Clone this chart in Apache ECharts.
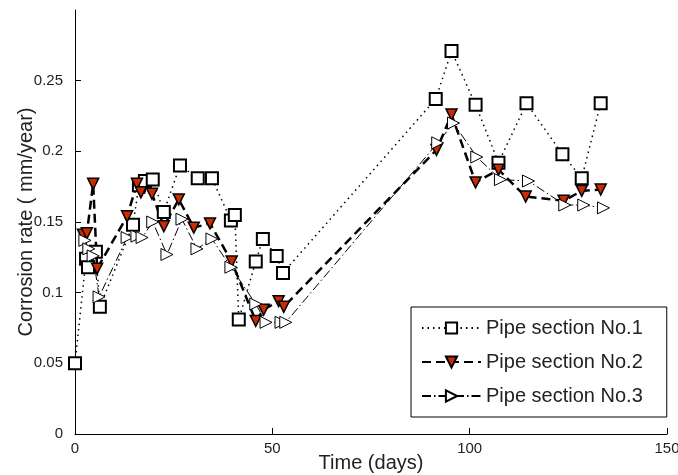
<!DOCTYPE html>
<html>
<head>
<meta charset="utf-8">
<script src="https://cdn.jsdelivr.net/npm/echarts@6/dist/echarts.min.js"></script>
<style>
  html, body { margin: 0; padding: 0; background: #fff; }
  #chart { width: 678px; height: 475px; }
</style>
</head>
<body>
<div id="chart"></div>
<script>
// Pipe section No.1 (squares)
const s1Days = [0, 2.8, 3.3, 5.3, 6.3, 14.7, 16.2, 17.7, 19.7, 22.5, 26.6, 31.1, 34.7, 39.5, 40.5, 41.5, 45.8, 47.6, 51.1, 52.7,
                91.4, 95.4, 101.5, 107.3, 114.4, 123.5, 128.4, 133.2];
const s1Rate = [0.050, 0.124, 0.118, 0.129, 0.090, 0.148, 0.176, 0.179, 0.180, 0.157, 0.190, 0.181, 0.181, 0.151, 0.155, 0.081, 0.122, 0.138, 0.126, 0.114,
                0.237, 0.271, 0.233, 0.192, 0.234, 0.198, 0.181, 0.234];

// Pipe section No.2 (down triangles)
const s2Days = [2.0, 3.0, 4.6, 5.6, 13.2, 15.7, 16.7, 19.5, 22.5, 26.3, 30.1, 34.2, 39.7, 45.8, 47.8, 51.6, 52.9,
                91.6, 95.4, 101.5, 107.3, 114.2, 123.8, 128.4, 133.2];
const s2Rate = [0.141, 0.142, 0.177, 0.117, 0.154, 0.177, 0.171, 0.170, 0.147, 0.166, 0.146, 0.149, 0.122, 0.080, 0.088, 0.094, 0.090,
                0.201, 0.226, 0.178, 0.187, 0.168, 0.165, 0.172, 0.173];

// Pipe section No.3 (right triangles)
const s3Days = [2.5, 3.5, 4.6, 6.1, 13.2, 15.7, 17.0, 19.7, 23.3, 27.1, 30.9, 34.7, 39.5, 45.8, 48.4, 52.2, 53.4,
                91.9, 95.9, 101.8, 107.8, 114.9, 124.1, 128.9, 133.9];
const s3Rate = [0.137, 0.131, 0.126, 0.097, 0.139, 0.140, 0.139, 0.150, 0.127, 0.152, 0.131, 0.138, 0.118, 0.092, 0.079, 0.079, 0.079,
                0.206, 0.220, 0.196, 0.180, 0.179, 0.162, 0.162, 0.160];

const seriesNames = ['Pipe section No.1', 'Pipe section No.2', 'Pipe section No.3'];

const pairs = (xs, ys) => xs.map((x, i) => [x, ys[i]]);

const font = 'Liberation Sans, Arial, sans-serif';
const chart = echarts.init(document.getElementById('chart'), null, { renderer: 'canvas' });

chart.setOption({
    animation: false,
    backgroundColor: '#fff',
    grid: { left: 75, right: 11, top: 10, bottom: 41, outerBoundsMode: 'none', containLabel: false },
    xAxis: {
        type: 'value',
        min: 0, max: 150, interval: 50,
        name: 'Time (days)',
        nameLocation: 'middle',
        nameGap: 19,
        nameMoveOverlap: false,
        nameTextStyle: { fontFamily: font, fontSize: 20, color: '#222' },
        axisLine: { lineStyle: { color: '#000', width: 1 } },
        axisTick: { inside: true, length: 6, lineStyle: { color: '#000' } },
        axisLabel: { fontFamily: font, fontSize: 15, color: '#222', margin: 7 },
        splitLine: { show: false }
    },
    yAxis: {
        type: 'value',
        min: 0, max: 0.3, interval: 0.05,
        name: 'Corrosion rate ( mm/year)',
        nameLocation: 'middle',
        nameGap: 39,
        nameMoveOverlap: false,
        nameTextStyle: { fontFamily: font, fontSize: 20, color: '#222' },
        axisLine: { show: true, lineStyle: { color: '#000', width: 1 } },
        axisTick: { show: true, inside: true, length: 6, lineStyle: { color: '#000' } },
        axisLabel: { fontFamily: font, fontSize: 15, color: '#222', margin: 12, showMaxLabel: false },
        splitLine: { show: false }
    },
    legend: {
        orient: 'vertical',
        left: 411, top: 307,
        backgroundColor: '#fff',
        borderColor: '#000', borderWidth: 1, borderRadius: 0,
        padding: [11, 24, 11, 10],
        itemGap: 14,
        itemWidth: 59, itemHeight: 14,
        textStyle: { fontFamily: font, fontSize: 20, color: '#222' },
        data: seriesNames
    },
    series: [
        {
            name: seriesNames[0],
            type: 'line',
            data: pairs(s1Days, s1Rate),
            symbol: 'rect', symbolSize: 12,
            itemStyle: { color: '#fff', borderColor: '#000', borderWidth: 2 },
            lineStyle: { color: '#000', width: 1.5, type: [1.5, 4] }
        },
        {
            name: seriesNames[1],
            type: 'line',
            data: pairs(s2Days, s2Rate),
            symbol: 'triangle', symbolSize: 11, symbolRotate: 180,
            itemStyle: { color: '#cc2a00', borderColor: '#000', borderWidth: 1.5 },
            lineStyle: { color: '#000', width: 2.5, type: [9, 5] }
        },
        {
            name: seriesNames[2],
            type: 'line',
            data: pairs(s3Days, s3Rate),
            symbol: 'triangle', symbolSize: 12, symbolRotate: -90,
            itemStyle: { color: '#fff', borderColor: '#000', borderWidth: 1 },
            lineStyle: { color: '#000', width: 1, type: [9, 3, 1.5, 3] }
        }
    ]
});
</script>
</body>
</html>
